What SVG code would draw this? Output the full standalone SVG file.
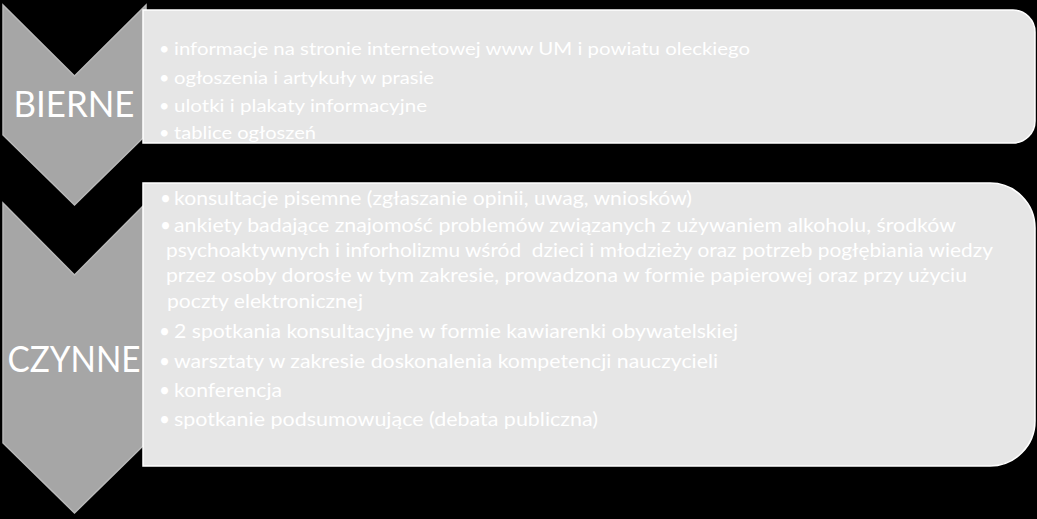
<svg xmlns="http://www.w3.org/2000/svg" width="1037" height="519" viewBox="0 0 1037 519">
<style>
.chev{fill:#a6a6a6;stroke:#b9b9b9;stroke-width:1.5;stroke-linejoin:miter}
.box{fill:#e6e6e6;stroke:#ffffff;stroke-width:1.5}
.lbl{font-family:Lato,"Liberation Sans",sans-serif;font-size:36px;fill:#ffffff;text-anchor:middle}
.item{font-family:Lato,"Liberation Sans",sans-serif;font-size:18px;fill:#ffffff;white-space:pre}
.item2{font-family:Lato,"Liberation Sans",sans-serif;font-size:19px;fill:#ffffff;white-space:pre}
</style>
<rect x="0" y="0" width="1037" height="519" fill="#000000"/>
<g id="bierne">
<path class="chev" d="M3,5 L74.5,76 L146,5 L146,135 L74.5,205 L3,135 Z"/>
<path id="bierne-box" class="box" d="M143,10 H1013 A22,22 0 0 1 1035,32 V121 A22,22 0 0 1 1013,143 H143 Z"/>
<text class="lbl" x="74" y="117" textLength="121" lengthAdjust="spacingAndGlyphs">BIERNE</text>
<text class="item" y="55"><tspan x="159">•</tspan><tspan x="174" textLength="576" lengthAdjust="spacingAndGlyphs">informacje na stronie internetowej www UM i powiatu oleckiego</tspan></text>
<text class="item" y="83.5"><tspan x="159">•</tspan><tspan x="174" textLength="260" lengthAdjust="spacingAndGlyphs">ogłoszenia i artykuły w prasie</tspan></text>
<text class="item" y="112"><tspan x="159">•</tspan><tspan x="174" textLength="253" lengthAdjust="spacingAndGlyphs">ulotki i plakaty informacyjne</tspan></text>
<text class="item" y="139"><tspan x="159">•</tspan><tspan x="174" textLength="142" lengthAdjust="spacingAndGlyphs">tablice ogłoszeń</tspan></text>
</g>
<g id="czynne">
<path class="chev" d="M3,203 L74.5,275 L146,203 L146,443 L74.5,513 L3,443 Z"/>
<path id="czynne-box" class="box" d="M143,183 H990 A45,45 0 0 1 1035,228 V421 A45,45 0 0 1 990,466 H143 Z"/>
<text class="lbl" x="74" y="372" textLength="133" lengthAdjust="spacingAndGlyphs">CZYNNE</text>
<text class="item2" y="205"><tspan x="160">•</tspan><tspan x="174" textLength="518" lengthAdjust="spacingAndGlyphs">konsultacje pisemne (zgłaszanie opinii, uwag, wniosków)</tspan></text>
<text class="item2" y="232"><tspan x="160">•</tspan><tspan x="174" textLength="782" lengthAdjust="spacingAndGlyphs">ankiety badające znajomość problemów związanych z używaniem alkoholu, środków</tspan></text>
<text class="item2" x="166" y="257" textLength="827" lengthAdjust="spacingAndGlyphs">psychoaktywnych i inforholizmu wśród  dzieci i młodzieży oraz potrzeb pogłębiania wiedzy</text>
<text class="item2" x="166" y="282" textLength="801" lengthAdjust="spacingAndGlyphs">przez osoby dorosłe w tym zakresie, prowadzona w formie papierowej oraz przy użyciu</text>
<text class="item2" x="167" y="308" textLength="196" lengthAdjust="spacingAndGlyphs">poczty elektronicznej</text>
<text class="item2" y="338"><tspan x="159">•</tspan><tspan x="174" textLength="564" lengthAdjust="spacingAndGlyphs">2 spotkania konsultacyjne w formie kawiarenki obywatelskiej</tspan></text>
<text class="item2" y="368"><tspan x="159">•</tspan><tspan x="174" textLength="544" lengthAdjust="spacingAndGlyphs">warsztaty w zakresie doskonalenia kompetencji nauczycieli</tspan></text>
<text class="item2" y="397"><tspan x="159">•</tspan><tspan x="174" textLength="108" lengthAdjust="spacingAndGlyphs">konferencja</tspan></text>
<text class="item2" y="426"><tspan x="159">•</tspan><tspan x="174" textLength="424" lengthAdjust="spacingAndGlyphs">spotkanie podsumowujące (debata publiczna)</tspan></text>
</g>
<g id="connectors"></g>
</svg>
